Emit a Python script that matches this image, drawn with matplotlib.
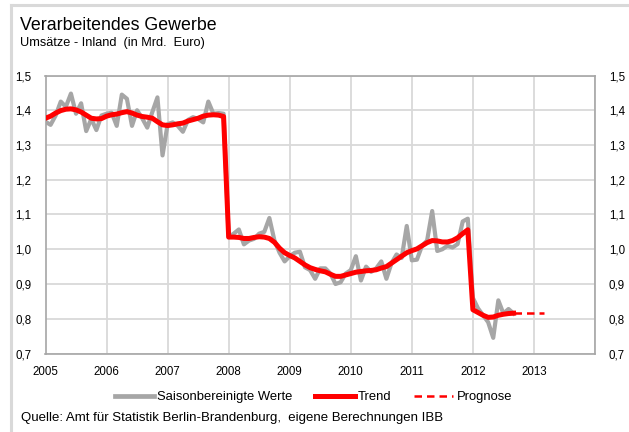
import numpy as np
import pandas as pd
import matplotlib
matplotlib.use("Agg")
import matplotlib.pyplot as plt
from matplotlib.lines import Line2D
from matplotlib.ticker import FuncFormatter

plt.rcParams['font.family'] = ['Liberation Sans', 'DejaVu Sans']

# monthly values, Jan 2005 .. Sep 2012
saison = [
    1.367, 1.358, 1.385, 1.425, 1.410, 1.448, 1.390, 1.420, 1.340, 1.375, 1.343, 1.385,  # 2005
    1.390, 1.393, 1.355, 1.445, 1.433, 1.355, 1.400, 1.377, 1.350, 1.395, 1.437, 1.270,  # 2006
    1.360, 1.365, 1.355, 1.338, 1.372, 1.380, 1.375, 1.365, 1.425, 1.390, 1.392, 1.390,  # 2007
    1.035, 1.045, 1.057, 1.014, 1.025, 1.030, 1.045, 1.050, 1.090, 1.025, 0.990, 0.965,  # 2008
    0.980, 0.990, 0.993, 0.948, 0.940, 0.915, 0.945, 0.945, 0.930, 0.900, 0.905, 0.930,  # 2009
    0.940, 0.980, 0.910, 0.950, 0.935, 0.945, 0.965, 0.915, 0.960, 0.985, 0.975, 1.067,  # 2010
    0.968, 0.970, 1.010, 1.025, 1.110, 0.995, 1.000, 1.010, 1.005, 1.015, 1.080, 1.088,  # 2011
    0.860, 0.830, 0.810, 0.790, 0.745, 0.853, 0.815, 0.828, 0.815,                      # 2012
]
trend = [
    1.377, 1.383, 1.392, 1.399, 1.403, 1.404, 1.401, 1.395, 1.386, 1.377, 1.375, 1.376,
    1.383, 1.387, 1.389, 1.393, 1.396, 1.392, 1.386, 1.382, 1.380, 1.377, 1.367, 1.358,
    1.356, 1.358, 1.361, 1.363, 1.369, 1.373, 1.377, 1.383, 1.386, 1.387, 1.386, 1.382,
    1.035, 1.035, 1.034, 1.031, 1.031, 1.034, 1.036, 1.035, 1.031, 1.020, 1.003, 0.990,
    0.982, 0.975, 0.965, 0.955, 0.947, 0.942, 0.938, 0.935, 0.928, 0.922, 0.922, 0.926,
    0.930, 0.934, 0.936, 0.938, 0.939, 0.941, 0.946, 0.950, 0.960, 0.970, 0.980, 0.990,
    0.996, 1.001, 1.010, 1.019, 1.025, 1.024, 1.021, 1.021, 1.025, 1.033, 1.045, 1.056,
    0.826, 0.818, 0.810, 0.804, 0.805, 0.810, 0.813, 0.815, 0.816,
]
prognose_start = '2012-09'
prognose = [0.816, 0.816, 0.816, 0.816, 0.816, 0.816, 0.816]

years = list(range(2005, 2015))
year_labels = ['2005', '2006', '2007', '2008', '2009', '2010', '2011', '2012', '2013', '']
yticks = [0.7, 0.8, 0.9, 1.0, 1.1, 1.2, 1.3, 1.4, 1.5]


def to_year(idx):
    return idx.year + (idx.month - 1) / 12


x_hist = to_year(pd.date_range('2005-01', periods=len(saison), freq='MS'))
x_prog = to_year(pd.date_range(prognose_start, periods=len(prognose), freq='MS'))

fig = plt.figure(figsize=(6.29, 4.32), dpi=100)
ax = fig.add_axes([45.5 / 629, 1 - 353.5 / 432, (595 - 45.5) / 629, (353.5 - 75.5) / 432])

grid_c = '#d9d9d9'
ax.plot(x_hist, saison, color='#a6a6a6', lw=3.0, solid_joinstyle='round', zorder=3)
ax.plot(x_hist, trend, color='#ff0000', lw=3.6, solid_joinstyle='round', zorder=4)
ax.plot(x_prog, prognose, color='#ff0000', lw=1.8, ls=(0, (3, 2)), zorder=4)

ax.set_xlim(2005, 2014)
ax.set_ylim(0.7, 1.5)
ax.set_xticks(years)
ax.set_xticklabels(year_labels)
ax.set_yticks(yticks)
ax.grid(True, color=grid_c, lw=1.3)
ax.set_axisbelow(True)
fmt = FuncFormatter(lambda v, p: f"{v:.1f}".replace('.', ','))
ax.yaxis.set_major_formatter(fmt)
ax.tick_params(length=0, labelsize=8.3, pad=10, colors='#000000')
ax.tick_params(axis='x', pad=9)
for lbl in ax.get_xticklabels():
    lbl.set_horizontalalignment('center')
for s in ax.spines.values():
    s.set_color('#a6a6a6')
    s.set_linewidth(1.2)

ax2 = ax.twinx()
ax2.set_ylim(0.7, 1.5)
ax2.set_yticks(yticks)
ax2.yaxis.set_major_formatter(fmt)
ax2.tick_params(length=0, labelsize=8.3, pad=10)
for s in ax2.spines.values():
    s.set_visible(False)

# outer frame
fig.add_artist(Line2D([11 / 629, 11 / 629], [0, 1 - 5 / 432], transform=fig.transFigure,
                      color='#d9d9d9', lw=2.2))
fig.add_artist(Line2D([11 / 629, 1], [1 - 5 / 432, 1 - 5 / 432], transform=fig.transFigure,
                      color='#d9d9d9', lw=2.2))

fig.text(20 / 629, 1 - 26 / 432, 'Verarbeitendes Gewerbe', fontsize=12.8, va='center')
fig.text(20 / 629, 1 - 43 / 432, 'Umsätze - Inland  (in Mrd.  Euro)', fontsize=9.2, va='center')
fig.text(21 / 629, 1 - 418 / 432,
         'Quelle: Amt für Statistik Berlin-Brandenburg,  eigene Berechnungen IBB',
         fontsize=9.5, va='center')

handles = [Line2D([], [], color='#a6a6a6', lw=3.4),
           Line2D([], [], color='#ff0000', lw=3.6),
           Line2D([], [], color='#ff0000', lw=1.8, ls=(0, (3, 2)))]
fig.legend(handles, ['Saisonbereinigte Werte', 'Trend', 'Prognose'],
           loc='center', bbox_to_anchor=(313.5 / 629, 1 - 397 / 432), ncol=3,
           frameon=False, fontsize=9.4, handlelength=3.0, handletextpad=0.25,
           columnspacing=1.75, borderpad=0)

fig.savefig('out.png', dpi=100)
